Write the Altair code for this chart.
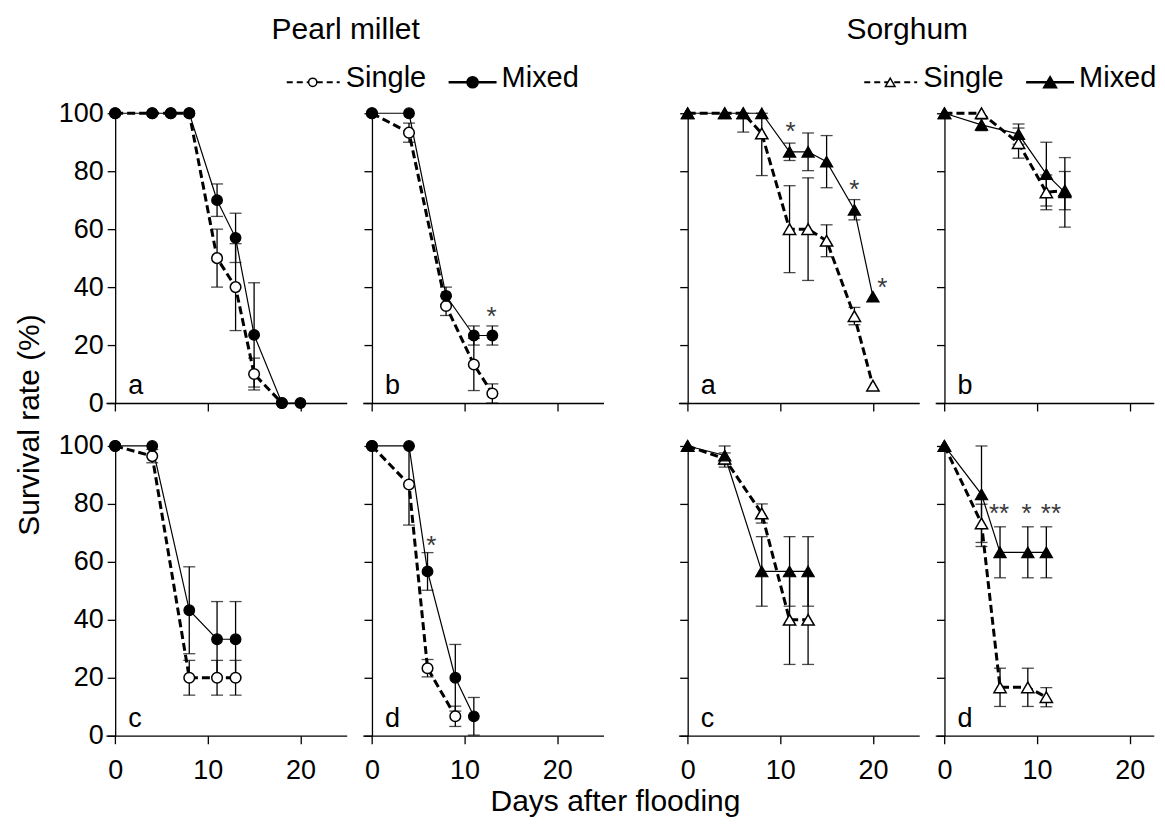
import altair as alt
import pandas as pd

FONT = "Liberation Sans"
FS = 27          # tick labels and panel letters
FS_T = 30        # axis titles and column titles
FS_L = 29        # legend text

# ---------------- data ----------------
# Pearl millet, panel a
pma_s_day = [0, 4, 6, 8, 11, 13, 15, 18]
pma_s_val = [100, 100, 100, 100, 50, 40, 10, 0]
pma_s_err = [0, 0, 0, 0, 10, 15, 5.5, 0]
pma_m_day = [0, 4, 6, 8, 11, 13, 15, 18, 20]
pma_m_val = [100, 100, 100, 100, 70, 57, 23.5, 0, 0]
pma_m_err = [0, 0, 0, 0, 5.6, 8.5, 18, 0, 0]
# Pearl millet, panel b
pmb_s_day = [0, 4, 8, 11, 13]
pmb_s_val = [100, 93.3, 33.5, 13.3, 3.3]
pmb_s_err = [0, 3.3, 3.3, 9, 3.3]
pmb_m_day = [0, 4, 8, 11, 13]
pmb_m_val = [100, 100, 37, 23.3, 23.3]
pmb_m_err = [0, 0, 3, 3.3, 3.3]
pmb_star_day = [12.9]
pmb_star_val = [31]
pmb_star_txt = ["*"]
# Pearl millet, panel c
pmc_s_day = [0, 4, 8, 11, 13]
pmc_s_val = [100, 96.5, 20, 20, 20]
pmc_s_err = [0, 2.3, 6, 6, 6]
pmc_m_day = [0, 4, 8, 11, 13]
pmc_m_val = [100, 100, 43.3, 33.3, 33.3]
pmc_m_err = [0, 0, 15, 13, 13]
# Pearl millet, panel d
pmd_s_day = [0, 4, 6, 9]
pmd_s_val = [100, 86.7, 23.3, 6.7]
pmd_s_err = [0, 14, 3, 3.5]
pmd_m_day = [0, 4, 6, 9, 11]
pmd_m_val = [100, 100, 56.7, 20, 6.7]
pmd_m_err = [0, 0, 6.5, 11.5, 6.5]
pmd_star_day = [6.4]
pmd_star_val = [67]
pmd_star_txt = ["*"]
# Sorghum, panel a
sa_s_day = [0, 4, 6, 8, 11, 13, 15, 18, 20]
sa_s_val = [100, 100, 100, 93, 60, 60, 56, 30, 6]
sa_s_err = [0, 0, 0, 14.5, 15, 17.7, 5.5, 3, 0]
sa_m_day = [0, 4, 6, 8, 11, 13, 15, 18, 20]
sa_m_val = [100, 100, 100, 100, 86.7, 86.7, 83.3, 66.7, 36.7]
sa_m_err = [0, 0, 6.5, 0, 3, 6.5, 9, 3.5, 0]
sa_star_day = [11.1, 18.0, 21.0]
sa_star_val = [95, 75, 41]
sa_star_txt = ["*", "*", "*"]
# Sorghum, panel b
sb_s_day = [0, 4, 8, 11, 13]
sb_s_val = [100, 100, 89.7, 72.7, 73.3]
sb_s_err = [0, 0, 5.2, 6, 6.6]
sb_m_day = [0, 4, 8, 11, 13]
sb_m_val = [100, 96, 92.8, 79, 72.7]
sb_m_err = [0, 2, 3.5, 11, 12]
# Sorghum, panel c
sc_s_day = [0, 4, 8, 11, 13]
sc_s_val = [100, 95.6, 76.7, 40, 40]
sc_s_err = [0, 2, 3.3, 15.4, 15.4]
sc_m_day = [0, 4, 8, 11, 13]
sc_m_val = [100, 96.7, 56.7, 56.7, 56.7]
sc_m_err = [0, 4, 12, 12, 12]
# Sorghum, panel d
sd_s_day = [0, 4, 6, 9, 11]
sd_s_val = [100, 73.3, 16.7, 16.7, 13.3]
sd_s_err = [0, 6.6, 6.6, 6.6, 3.3]
sd_m_day = [0, 4, 6, 9, 11]
sd_m_val = [100, 83.3, 63.3, 63.3, 63.3]
sd_m_err = [0, 18, 8.8, 8.8, 8.8]
sd_star_day = [5.9, 8.85, 11.5]
sd_star_val = [78, 78, 78]
sd_star_txt = ["**", "*", "**"]

x_ticks = [0, 10, 20]
y_ticks = [0, 20, 40, 60, 80, 100]

# ---------------- layout constants ----------------
PX_DAY = 9.27
H = 290
DOM_FULL = [-1, 25]
DOM_CUT = [-1, 22.6]          # right-most column is cut by the page edge
ys = alt.Scale(domain=[0, 100], nice=False, zero=False)


def df(days, vals, errs):
    return pd.DataFrame({"day": days, "v": vals, "e": errs})


def panel(s, m, shape, psize, letter, stars, xlab, ylab, extras=(), dom=DOM_FULL):
    w = (dom[1] - dom[0]) * PX_DAY
    xs = alt.Scale(domain=dom, nice=False, zero=False)
    xax = alt.Axis(values=x_ticks, labels=xlab, grid=False, tickSize=8,
                   labelPadding=14, labelFontSize=FS)
    yax = alt.Axis(values=y_ticks, labels=ylab, grid=False, tickSize=8,
                   labelPadding=4, labelFontSize=FS, offset=-PX_DAY)
    X = alt.X("day:Q", scale=xs, axis=xax, title=None)
    Y = alt.Y("v:Q", scale=ys, axis=yax, title=None)
    Ylo = alt.Y("lo:Q", scale=ys, axis=yax, title=None)
    Yhi = alt.Y("hi:Q", scale=ys, axis=yax, title=None)

    layers = []
    layers.append(alt.Chart(s).mark_line(color="black", strokeWidth=3,
                                         strokeDash=[8, 4]).encode(x=X, y=Y))
    layers.append(alt.Chart(m).mark_line(color="black", strokeWidth=1.2).encode(x=X, y=Y))
    for d in (s, m):
        base = alt.Chart(d).transform_filter("datum.e > 0").transform_calculate(
            lo="max(datum.v - datum.e, 0)", hi="min(datum.v + datum.e, 100)")
        layers.append(base.mark_rule(color="black", strokeWidth=1.3).encode(
            x=X, y=Ylo, y2="hi:Q"))
        layers.append(base.mark_tick(color="black", orient="horizontal", size=12,
                                     thickness=1.3).encode(x=X, y=Ylo))
        layers.append(base.mark_tick(color="black", orient="horizontal", size=12,
                                     thickness=1.3).encode(x=X, y=Yhi))
    layers.append(alt.Chart(s).mark_point(shape=shape, filled=True, fill="white",
                                          stroke="black", strokeWidth=1.5, size=psize,
                                          opacity=1).encode(x=X, y=Y))
    layers.append(alt.Chart(m).mark_point(shape=shape, filled=True, fill="black",
                                          stroke="black", strokeWidth=1.2, size=psize,
                                          opacity=1).encode(x=X, y=Y))
    if stars is not None:
        layers.append(alt.Chart(stars).mark_text(fontSize=26, font=FONT, color="#3a3a3a",
                                                 baseline="middle", align="center",
                                                 dy=4).encode(
            x=X, y=Y, text="t:N"))
    layers.append(alt.Chart(pd.DataFrame({"t": [letter]})).mark_text(
        fontSize=FS, font=FONT, color="black", align="left", baseline="alphabetic").encode(
        x=alt.datum(1.4, scale=xs), y=alt.datum(3, scale=ys), text="t:N"))
    layers.extend(extras)
    return alt.layer(*layers).properties(width=w, height=H)


dummy = pd.DataFrame({"k": [0]})


def legend(cx_title, title, shape, psize, x0):
    """Legend and column title, pixel positions relative to the panel origin."""
    ly = -31
    out = []
    out.append(alt.Chart(dummy).mark_text(fontSize=FS_T, font=FONT, color="black",
                                          align="center", baseline="middle").encode(
        x=alt.value(cx_title), y=alt.value(-83), text=alt.value(title)))
    out.append(alt.Chart(dummy).mark_rule(color="black", strokeWidth=2,
                                          strokeDash=[6, 4]).encode(
        x=alt.value(x0), x2=alt.value(x0 + 53), y=alt.value(ly)))
    out.append(alt.Chart(dummy).mark_point(shape=shape, filled=True, fill="white",
                                           stroke="black", strokeWidth=1.5, size=psize * 0.6,
                                           opacity=1).encode(
        x=alt.value(x0 + 26), y=alt.value(ly)))
    out.append(alt.Chart(dummy).mark_text(fontSize=FS_L, font=FONT, color="black",
                                          align="left", baseline="middle").encode(
        x=alt.value(x0 + 59), y=alt.value(ly - 4), text=alt.value("Single")))
    out.append(alt.Chart(dummy).mark_rule(color="black", strokeWidth=2.5).encode(
        x=alt.value(x0 + 162), x2=alt.value(x0 + 210), y=alt.value(ly)))
    out.append(alt.Chart(dummy).mark_point(shape=shape, filled=True, fill="black",
                                           stroke="black", size=psize,
                                           opacity=1).encode(
        x=alt.value(x0 + 186), y=alt.value(ly)))
    out.append(alt.Chart(dummy).mark_text(fontSize=FS_L, font=FONT, color="black",
                                          align="left", baseline="middle").encode(
        x=alt.value(x0 + 215), y=alt.value(ly - 4), text=alt.value("Mixed")))
    return out


def stars_df(d, v, t):
    return pd.DataFrame({"day": d, "v": v, "t": t})


CIRC = 113
TRI = 150

ytitle = alt.Chart(dummy).mark_text(fontSize=FS_T, font=FONT, color="black", angle=270,
                                    align="center", baseline="middle").encode(
    x=alt.value(-76), y=alt.value(312), text=alt.value("Survival rate (%)"))
xtitle = alt.Chart(dummy).mark_text(fontSize=FS_T, font=FONT, color="black",
                                    align="center", baseline="middle").encode(
    x=alt.value(510), y=alt.value(356), text=alt.value("Days after flooding"))

p_a = panel(df(pma_s_day, pma_s_val, pma_s_err), df(pma_m_day, pma_m_val, pma_m_err),
            "circle", CIRC, "a", None, False, True,
            extras=legend(240, "Pearl millet", "circle", CIRC, 181) + [ytitle])
p_b = panel(df(pmb_s_day, pmb_s_val, pmb_s_err), df(pmb_m_day, pmb_m_val, pmb_m_err),
            "circle", CIRC, "b", stars_df(pmb_star_day, pmb_star_val, pmb_star_txt),
            False, False)
p_c = panel(df(pmc_s_day, pmc_s_val, pmc_s_err), df(pmc_m_day, pmc_m_val, pmc_m_err),
            "circle", CIRC, "c", None, True, True, extras=[xtitle])
p_d = panel(df(pmd_s_day, pmd_s_val, pmd_s_err), df(pmd_m_day, pmd_m_val, pmd_m_err),
            "circle", CIRC, "d", stars_df(pmd_star_day, pmd_star_val, pmd_star_txt),
            True, False)
s_a = panel(df(sa_s_day, sa_s_val, sa_s_err), df(sa_m_day, sa_m_val, sa_m_err),
            "triangle-up", TRI, "a", stars_df(sa_star_day, sa_star_val, sa_star_txt),
            False, False,
            extras=legend(229, "Sorghum", "triangle-up", TRI, 186))
s_b = panel(df(sb_s_day, sb_s_val, sb_s_err), df(sb_m_day, sb_m_val, sb_m_err),
            "triangle-up", TRI, "b", None, False, False, dom=DOM_CUT)
s_c = panel(df(sc_s_day, sc_s_val, sc_s_err), df(sc_m_day, sc_m_val, sc_m_err),
            "triangle-up", TRI, "c", None, True, False)
s_d = panel(df(sd_s_day, sd_s_val, sd_s_err), df(sd_m_day, sd_m_val, sd_m_err),
            "triangle-up", TRI, "d", stars_df(sd_star_day, sd_star_val, sd_star_txt),
            True, False, dom=DOM_CUT)


def spacer():
    return alt.Chart(dummy).mark_text(text=" ", opacity=0, fontSize=1).encode(
        x=alt.value(0), y=alt.value(100)).properties(width=44, height=H)


chart = alt.concat(p_a, p_b, spacer(), s_a, s_b,
                   p_c, p_d, spacer(), s_c, s_d,
                   columns=5, spacing={"row": 43, "column": 15},
                   bounds="flush", align="each").properties(
    padding={"left": 7, "top": 7, "right": 0, "bottom": 0},
    background="white"
).configure_view(
    strokeWidth=0, stroke="transparent"
).configure_axis(
    domainColor="black", tickColor="black", labelColor="black",
    domainWidth=1.3, tickWidth=1.3, labelFont=FONT, labelFontSize=FS
)

chart.save("out.html", embed_options={"renderer": "svg", "actions": False})
